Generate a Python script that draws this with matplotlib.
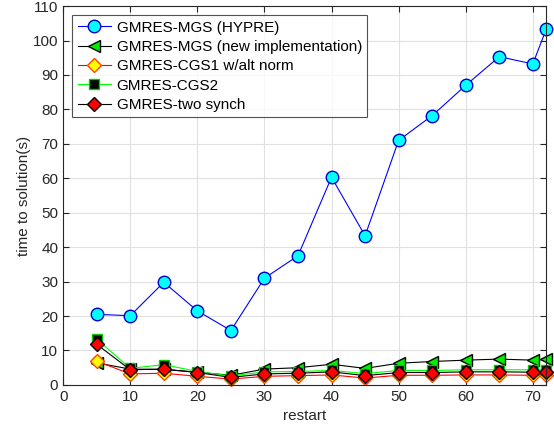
import matplotlib
matplotlib.use("Agg")
import matplotlib.pyplot as plt

plt.rcParams['font.family'] = ['Liberation Sans', 'DejaVu Sans']

restart = [5, 10, 15, 20, 25, 30, 35, 40, 45, 50, 55, 60, 65, 70, 72]

mgs_hypre = [20.5, 20.1, 29.8, 21.5, 15.8, 31.0, 37.5, 60.3, 43.3, 71.0, 78.2, 87.0, 95.3, 93.2, 103.3]
mgs_new = [6.4, 4.6, 4.5, 3.7, 2.8, 4.6, 5.0, 6.0, 4.8, 6.3, 6.8, 7.2, 7.5, 7.2, 7.4]
cgs1_alt = [6.9, 3.2, 3.4, 2.5, 1.7, 2.5, 2.7, 2.9, 2.0, 2.8, 2.8, 2.9, 2.9, 2.8, 2.8]
cgs2 = [13.3, 4.8, 5.9, 3.9, 2.6, 3.8, 3.9, 4.2, 3.3, 4.2, 4.2, 4.4, 4.4, 4.4, 4.4]
two_synch = [11.8, 4.4, 4.6, 3.6, 2.2, 3.2, 3.4, 3.8, 2.7, 3.6, 3.6, 3.8, 3.8, 3.7, 3.7]

fig = plt.figure(figsize=(5.54, 4.33), dpi=100)
ax = fig.add_axes([0.114, 0.111, 0.872, 0.875])

series = [
    (mgs_hypre, '-o', '#0000ff', '#00ffff', '#0000cc', 9, 'GMRES-MGS (HYPRE)'),
    (mgs_new, '-<', 'black', '#00ee00', 'black', 9, 'GMRES-MGS (new implementation)'),
    (cgs1_alt, '-D', '#ff0000', '#ffff00', '#ff4400', 7.5, 'GMRES-CGS1 w/alt norm'),
    (cgs2, '-s', '#00ff00', 'black', '#00cc00', 7, 'GMRES-CGS2'),
    (two_synch, '-D', 'black', '#ff0000', 'black', 7.5, 'GMRES-two synch'),
]
for vals, fmt, lc, fc, ec, ms, lab in series:
    ln, = ax.plot(restart, vals, fmt, color=lc, lw=0.8, mfc=fc, mec=ec, ms=ms, label=lab)
    ln.set_clip_on(False)

ax.set_xlim(0, 72)
ax.set_ylim(0, 110)
ax.set_xticks(range(0, 71, 10))
ax.set_yticks(range(0, 111, 10))
ax.grid(True, color='#e0e0e0', lw=0.8)
ax.set_axisbelow(True)
ax.tick_params(direction='in', length=4, labelsize=11, colors='#262626', top=True, right=True,
               labeltop=False, labelright=False)
for s in ax.spines.values():
    s.set_color('#262626')
    s.set_linewidth(0.8)

ax.set_xlabel('restart', fontsize=11, color='#262626')
ax.set_ylabel('time to solution(s)', fontsize=11, color='#262626', labelpad=1)

leg = ax.legend(loc='upper left', fontsize=11, frameon=True, fancybox=False,
                edgecolor='#262626', borderpad=0.35, labelspacing=0.35,
                handlelength=2.2, handletextpad=0.35, borderaxespad=0.6)
leg.get_frame().set_linewidth(0.8)

fig.savefig('out.png', dpi=100)
